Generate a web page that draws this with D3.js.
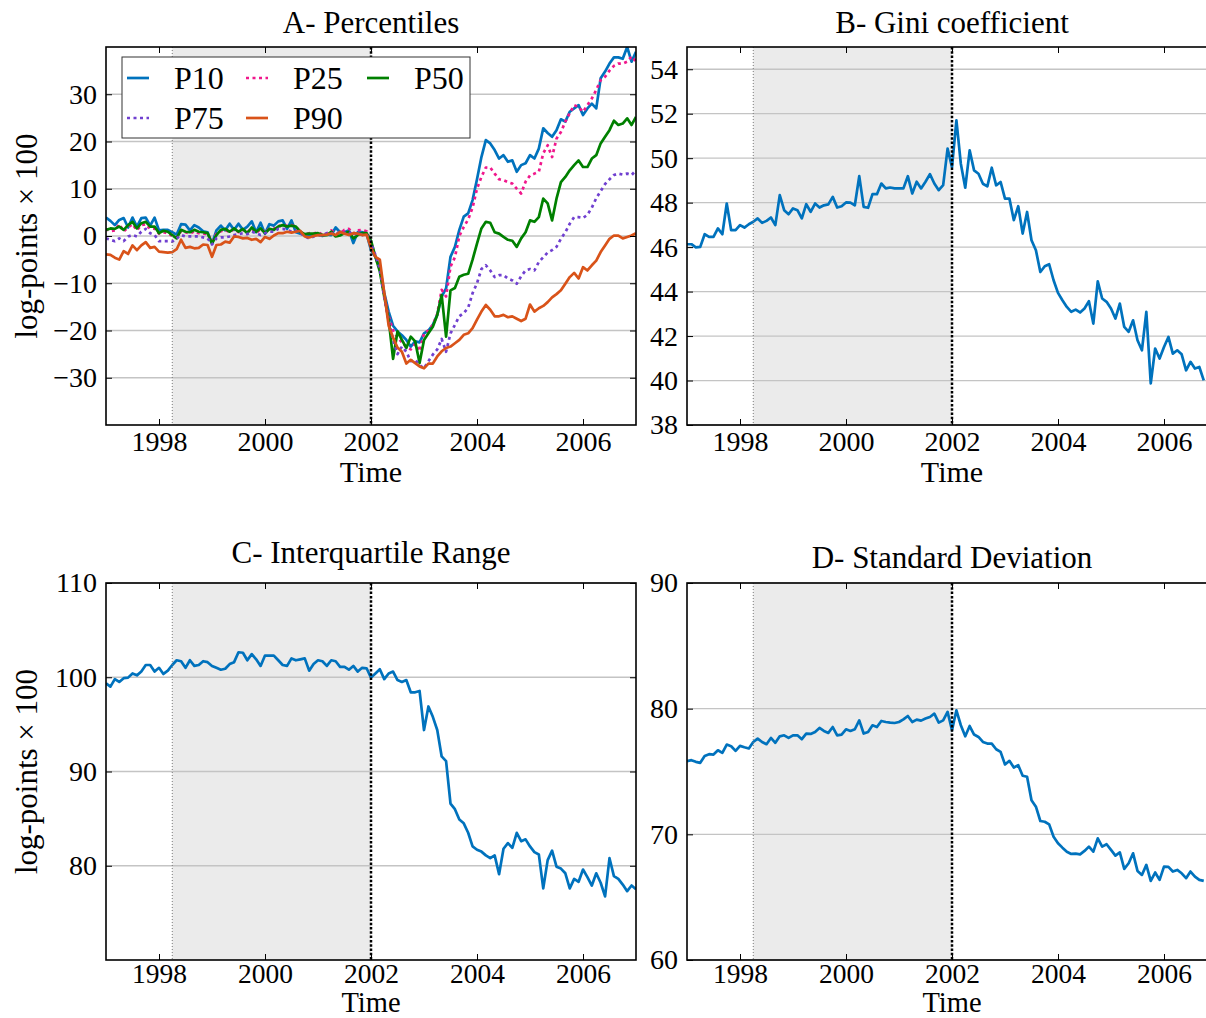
<!DOCTYPE html>
<html><head><meta charset="utf-8">
<script src="https://cdn.jsdelivr.net/npm/d3@7"></script>
<style>
body{margin:0;background:#fff}
svg{display:block}
text{font-family:"Liberation Serif","Times New Roman",serif;fill:#000}
</style>
</head><body>
<svg id="chart" width="1206" height="1018"></svg>
<script>
// ---------- DATA (monthly, starting January 1997) ----------
const startYear = 1997;
const xTickYears = [1998, 2000, 2002, 2004, 2006];
const recessionStart = 1998.25;
const crisisDate = 2002.0;

const seriesNames = ["P10", "P25", "P50", "P75", "P90"];

const P10 = [3.9,3.2,2.3,3.4,3.8,1.8,3.9,2.0,3.8,3.9,
  2.2,3.9,1.2,1.3,1.3,0.8,0.3,2.5,2.4,1.2,
  2.3,1.8,1.0,0.8,-1.6,1.2,2.2,1.2,2.6,1.3,
  2.6,1.3,2.0,3.1,0.8,2.8,0.5,2.5,2.2,3.1,
  3.3,1.5,3.3,0.8,0.5,0.3,0.3,0.2,0.3,0.0,
  0.3,0.2,1.8,0.8,0.8,1.2,-1.5,0.8,0.8,0.5,
  -3.0,-4.4,-6.5,-12.0,-16.0,-19.0,-20.2,-21.0,-22.0,-23.4,
  -22.3,-22.5,-20.6,-20.0,-18.8,-16.7,-12.8,-11.1,-4.4,-2.3,
  1.3,4.1,4.8,7.6,12.0,16.7,20.3,19.6,18.2,16.4,
  17.1,15.7,16.0,13.6,15.0,15.4,17.1,16.4,18.5,22.8,
  21.8,21.0,22.4,24.7,24.2,26.3,27.0,27.7,25.6,27.0,
  28.0,27.0,33.4,34.8,36.5,37.8,37.8,37.5,40.0,36.9,39.0];

const P25 = [1.5,1.0,1.2,2.5,1.0,1.8,2.5,1.2,2.3,2.5,
  1.5,1.6,0.5,0.8,0.6,0.0,-0.3,1.0,0.8,0.5,
  1.0,0.6,0.5,0.4,-1.2,0.5,1.0,1.3,0.8,1.5,
  0.8,1.3,0.8,1.6,0.6,1.5,0.8,1.5,1.5,2.2,
  2.0,2.2,2.3,2.0,0.8,0.3,0.6,0.5,0.8,0.3,
  0.5,1.2,0.6,0.5,1.3,1.5,0.5,1.2,1.3,1.0,
  -1.5,-4.5,-7.0,-12.5,-17.0,-20.0,-21.5,-22.5,-23.5,-24.0,
  -22.8,-24.4,-20.6,-20.0,-18.8,-16.5,-11.4,-12.8,-6.5,-4.5,
  0.0,1.9,3.5,6.0,10.0,12.5,14.5,14.5,13.2,12.0,
  11.8,11.4,11.1,10.0,9.0,11.5,12.8,13.2,13.6,17.5,
  19.2,16.7,20.6,22.0,24.2,26.0,27.7,27.3,26.3,27.7,
  29.1,30.9,33.0,33.7,35.0,36.0,36.5,36.5,36.9,38.0,36.9];

const P50 = [1.3,1.6,1.5,2.0,1.3,2.3,3.0,1.6,2.7,3.0,
  2.0,2.0,0.6,1.1,0.9,0.2,-0.5,1.3,0.9,0.8,
  1.3,0.9,0.8,0.6,-1.6,0.2,1.3,1.5,0.9,1.6,
  0.9,1.5,0.6,1.8,0.9,1.6,0.6,1.5,1.3,2.0,
  2.3,2.0,2.2,2.0,0.9,0.4,0.5,0.5,0.6,0.2,
  0.2,0.9,-0.1,0.1,0.6,0.9,-0.5,0.2,0.6,0.6,
  -1.0,-4.4,-7.5,-12.8,-17.7,-26.0,-20.2,-22.0,-23.7,-21.3,
  -22.3,-26.9,-22.0,-20.6,-19.2,-16.7,-12.5,-21.3,-11.5,-11.0,
  -8.6,-8.2,-8.0,-5.0,-1.6,1.6,3.0,2.8,0.8,0.5,
  -0.2,-0.8,-1.0,-2.3,-0.5,0.8,3.3,3.0,4.0,7.9,
  6.9,3.3,7.9,11.4,12.5,13.9,15.0,16.0,14.6,14.6,
  16.4,17.1,19.6,21.0,22.4,24.4,23.5,23.8,24.9,23.5,25.2];

const P75 = [-0.5,-0.8,-1.1,-0.5,-1.1,-0.1,0.2,-0.1,0.9,1.5,
  0.6,0.2,-1.1,-1.1,-1.1,-1.2,-0.5,0.2,-0.1,-0.1,
  -0.1,-0.1,-0.3,-0.5,-1.8,-0.5,-0.3,-0.3,-0.1,0.2,
  0.4,0.6,0.4,0.9,0.6,0.2,0.6,0.9,0.9,1.5,
  1.5,1.3,0.9,1.1,0.6,-0.1,-0.5,-0.1,0.1,0.2,
  0.6,0.6,0.4,0.9,0.6,0.9,0.2,0.6,0.2,0.4,
  -1.5,-4.0,-7.0,-13.0,-18.0,-22.0,-25.0,-23.4,-24.5,-26.5,
  -26.2,-27.3,-28.0,-26.5,-25.1,-24.0,-21.8,-24.5,-20.6,-18.8,
  -17.0,-16.3,-15.2,-12.1,-10.0,-7.0,-6.2,-7.3,-8.7,-8.3,
  -8.3,-9.0,-9.4,-10.1,-8.5,-7.3,-7.0,-7.3,-5.5,-4.5,
  -3.5,-3.0,-2.3,-0.6,0.8,2.6,4.0,4.0,3.8,4.5,
  6.0,8.0,9.5,11.0,12.0,12.9,13.2,13.0,13.2,12.9,13.9];

const P90 = [-3.9,-4.0,-4.6,-5.0,-3.2,-3.8,-2.0,-3.0,-2.0,-1.3,
  -2.5,-2.3,-3.3,-3.4,-3.5,-3.4,-2.8,-0.8,-2.5,-2.3,
  -2.6,-2.5,-1.8,-1.9,-4.4,-1.9,-1.8,-1.2,-1.4,-0.1,
  -0.2,-0.5,-0.4,-0.8,-0.6,-1.3,-0.2,-0.6,0.1,0.6,
  0.6,0.9,0.7,0.9,1.1,-0.1,-0.3,0.0,0.2,0.2,
  0.3,0.5,0.2,0.9,0.5,0.2,0.6,0.5,0.2,0.3,
  -2.5,-4.4,-5.0,-12.0,-19.0,-21.5,-23.6,-24.5,-27.0,-26.2,
  -26.9,-27.6,-28.0,-27.0,-27.0,-25.5,-24.4,-23.7,-23.4,-22.7,
  -22.0,-20.9,-20.6,-19.5,-17.7,-16.0,-14.6,-15.6,-17.0,-17.0,
  -16.7,-17.2,-17.0,-17.5,-18.0,-17.5,-14.5,-16.0,-15.3,-14.8,
  -14.0,-13.0,-12.3,-11.5,-10.1,-8.7,-7.8,-9.0,-6.6,-7.3,
  -6.2,-5.2,-3.4,-2.0,-0.6,0.1,0.1,-0.5,-0.2,0.1,0.6];

const gini = [46.13,46.13,45.99,46.01,46.58,46.46,46.46,46.84,46.58,47.96,
  46.76,46.76,46.99,46.88,47.03,47.14,47.29,47.09,47.18,47.33,
  46.99,48.34,47.66,47.48,47.74,47.66,47.29,47.93,47.59,47.96,
  47.78,47.88,47.92,48.26,47.78,47.84,48.01,48.00,47.88,49.19,
  47.81,47.77,48.38,48.38,48.86,48.64,48.68,48.64,48.64,48.64,
  49.19,48.41,48.94,48.64,48.94,49.28,48.86,48.56,48.79,50.43,
  49.60,51.70,49.75,48.67,50.35,49.45,49.30,48.85,48.73,49.57,
  48.78,48.93,48.18,48.18,47.21,47.84,46.61,47.58,46.31,45.86,
  44.88,45.14,45.23,44.51,43.94,43.61,43.31,43.09,43.19,43.06,
  43.24,43.57,42.56,44.46,43.69,43.54,43.24,42.79,43.46,42.41,
  42.19,42.71,41.81,41.36,43.09,39.87,41.44,40.99,41.51,41.96,
  41.21,41.36,41.18,40.46,40.84,40.54,40.61,40.01];

const iqr = [99.36,99.0,99.8,99.5,99.9,99.96,100.4,100.2,100.6,101.3,
  101.3,100.6,101.0,100.35,100.7,101.3,101.8,101.7,101.0,101.8,
  101.2,101.3,101.7,101.6,101.2,101.0,100.8,100.9,101.4,101.6,
  102.65,102.6,101.8,102.45,101.9,101.2,102.3,102.3,102.3,101.8,
  101.3,101.2,102.0,101.8,101.9,102.0,100.7,101.4,101.8,101.7,
  101.2,101.8,101.7,101.1,101.1,100.8,101.2,100.6,101.0,100.95,
  99.96,100.4,100.85,99.8,100.4,100.6,99.7,99.5,99.7,98.4,
  98.4,98.55,94.4,96.9,95.8,94.4,91.6,91.1,86.6,86.0,
  84.9,84.5,83.5,82.05,81.7,81.5,81.1,80.8,81.1,79.1,
  81.8,82.4,81.9,83.5,82.6,82.8,82.05,81.45,81.2,77.6,
  80.6,81.6,79.9,79.7,79.2,77.6,78.6,78.3,79.6,78.8,
  77.9,79.2,78.2,76.75,80.8,78.9,78.6,78.0,77.3,77.9,77.5];

const stdDev = [75.82,75.9,75.77,75.69,76.24,76.38,76.35,76.69,76.48,77.14,
  77.01,76.64,77.04,76.93,76.83,77.35,77.62,77.35,77.17,77.67,
  77.28,77.8,77.88,77.67,77.88,77.88,77.57,78.02,77.99,78.15,
  78.47,78.23,78.07,78.54,77.88,77.94,78.36,78.23,78.36,79.07,
  78.02,78.15,78.68,78.54,79.02,78.94,78.89,78.86,78.94,79.15,
  79.42,78.94,79.13,79.05,79.21,79.34,79.6,78.89,79.07,79.74,
  78.28,79.87,78.68,77.8,78.62,77.94,77.75,77.35,77.22,77.22,
  76.77,76.56,75.56,75.85,75.32,75.5,74.66,74.58,72.72,72.2,
  71.06,71.0,70.79,69.81,69.29,68.94,68.62,68.44,68.47,68.41,
  68.68,69.02,68.62,69.68,69.02,69.21,68.76,68.31,68.57,67.25,
  67.7,68.49,67.09,66.77,67.57,66.3,66.96,66.38,67.43,67.41,
  67.04,67.17,66.9,66.51,67.04,66.64,66.38,66.3];

const ticksA = [-30,-20,-10,0,10,20,30];
const ticksB = [38,40,42,44,46,48,50,52,54];
const ticksC = [80,90,100,110];
const ticksD = [60,70,80,90];

// ---------- STYLE ----------
const colors = {P10:"#0072BD", P25:"#F0178C", P50:"#008000", P75:"#7040D0", P90:"#D95319", single:"#0072BD"};
const dashes = {P10:null, P25:"3,3.5", P50:null, P75:"3,3.5", P90:null};

const svg = d3.select("#chart");
const timeOf = i => startYear + i / 12;
const fmtTick = d => d < 0 ? "\u2212" + Math.abs(d) : String(d);

const panels = [
  {id:"A", x0:106, x1:636, y0:47, y1:425, domain:[-40,40], ticks:ticksA, title:"A- Percentiles", titleY:33, ylabel:true,
   xlabDy:57, xlabSize:30, tickPad:6, xTickSize:28,
   series: seriesNames.map(n => ({name:n, values:{P10,P25,P50,P75,P90}[n]}))},
  {id:"B", x0:687, x1:1217, y0:47, y1:425, domain:[38,55], ticks:ticksB, title:"B- Gini coefficient", titleY:33, ylabel:false,
   xlabDy:57, xlabSize:30, tickPad:6, xTickSize:28,
   series:[{name:"single", values:gini}]},
  {id:"C", x0:106, x1:636, y0:583, y1:960, domain:[70,110], ticks:ticksC, title:"C- Interquartile Range", titleY:563, ylabel:true,
   xlabDy:52, xlabSize:28.5, tickPad:3.5, xTickSize:27.5,
   series:[{name:"single", values:iqr}]},
  {id:"D", x0:687, x1:1217, y0:583, y1:960, domain:[60,90], ticks:ticksD, title:"D- Standard Deviation", titleY:568, ylabel:false,
   xlabDy:52, xlabSize:28.5, tickPad:3.5, xTickSize:27.5,
   series:[{name:"single", values:stdDev}]}
];

const defs = svg.append("defs");

panels.forEach(p => {
  const x = d3.scaleLinear().domain([1997, 2007]).range([p.x0, p.x1]);
  const y = d3.scaleLinear().domain(p.domain).range([p.y1, p.y0]);
  const g = svg.append("g");

  defs.append("clipPath").attr("id", "clip" + p.id)
    .append("rect").attr("x", p.x0).attr("y", p.y0).attr("width", p.x1 - p.x0).attr("height", p.y1 - p.y0);

  // shaded recession
  g.append("rect")
    .attr("x", x(recessionStart)).attr("y", p.y0)
    .attr("width", x(crisisDate) - x(recessionStart)).attr("height", p.y1 - p.y0)
    .attr("fill", "#ebebeb");

  // grid
  g.append("g").selectAll("line").data(p.ticks).join("line")
    .attr("x1", p.x0).attr("x2", p.x1)
    .attr("y1", d => y(d)).attr("y2", d => y(d))
    .attr("stroke", "#c4c4c4").attr("stroke-width", 1.3);

  // data lines
  const line = d3.line().x((d, i) => x(timeOf(i))).y(d => y(d));
  g.append("g").attr("clip-path", `url(#clip${p.id})`)
    .selectAll("path").data(p.series).join("path")
    .attr("d", s => line(s.values))
    .attr("fill", "none")
    .attr("stroke", s => colors[s.name])
    .attr("stroke-width", 2.7)
    .attr("stroke-linejoin", "round")
    .attr("stroke-dasharray", s => dashes[s.name] || null);

  // vertical markers
  g.append("line").attr("x1", x(recessionStart)).attr("x2", x(recessionStart))
    .attr("y1", p.y0).attr("y2", p.y1)
    .attr("stroke", "#7a7a7a").attr("stroke-width", 1).attr("stroke-dasharray", "1,2");
  g.append("line").attr("x1", x(crisisDate)).attr("x2", x(crisisDate))
    .attr("y1", p.y0).attr("y2", p.y1)
    .attr("stroke", "#000").attr("stroke-width", 2.5).attr("stroke-dasharray", "2.5,1.8");

  // axes
  const axB = d3.axisBottom(x).tickValues(xTickYears).tickFormat(d3.format("d"))
    .tickSizeInner(-6).tickSizeOuter(0).tickPadding(p.tickPad);
  const axT = d3.axisTop(x).tickValues(xTickYears).tickFormat("")
    .tickSizeInner(-6).tickSizeOuter(0);
  const axL = d3.axisLeft(y).tickValues(p.ticks).tickFormat(fmtTick)
    .tickSizeInner(-6).tickSizeOuter(0).tickPadding(9);
  const axR = d3.axisRight(y).tickValues(p.ticks).tickFormat("")
    .tickSizeInner(-6).tickSizeOuter(0);

  const styleAxis = size => sel => {
    sel.select(".domain").remove();
    sel.selectAll(".tick line").attr("stroke", "#000").attr("stroke-width", 1);
    sel.selectAll("text").attr("font-size", size).attr("font-family", '"Liberation Serif", serif').attr("fill", "#000");
  };
  g.append("g").attr("transform", `translate(0,${p.y1})`).call(axB).call(styleAxis(p.xTickSize));
  g.append("g").attr("transform", `translate(0,${p.y0})`).call(axT).call(styleAxis(28));
  g.append("g").attr("transform", `translate(${p.x0},0)`).call(axL).call(styleAxis(28));
  g.append("g").attr("transform", `translate(${p.x1},0)`).call(axR).call(styleAxis(28));

  // frame
  g.append("rect").attr("x", p.x0).attr("y", p.y0)
    .attr("width", p.x1 - p.x0).attr("height", p.y1 - p.y0)
    .attr("fill", "none").attr("stroke", "#000").attr("stroke-width", 1.6);

  // title
  g.append("text").attr("x", (p.x0 + p.x1) / 2).attr("y", p.titleY)
    .attr("text-anchor", "middle").attr("font-size", 31).text(p.title);

  // x label
  g.append("text").attr("x", (p.x0 + p.x1) / 2).attr("y", p.y1 + p.xlabDy)
    .attr("text-anchor", "middle").attr("font-size", p.xlabSize).text("Time");

  // y label
  if (p.ylabel) {
    g.append("text")
      .attr("transform", `translate(37,${(p.y0 + p.y1) / 2}) rotate(-90)`)
      .attr("text-anchor", "middle").attr("font-size", 31)
      .text("log-points \u00d7 100");
  }

  // legend
  if (p.id === "A") {
    const lg = g.append("g");
    lg.append("rect").attr("x", 122).attr("y", 57).attr("width", 348).attr("height", 81)
      .attr("fill", "#fff").attr("stroke", "#333").attr("stroke-width", 1);
    const items = [
      {name:"P10", lx:127, ty:78}, {name:"P25", lx:246, ty:78}, {name:"P50", lx:367, ty:78},
      {name:"P75", lx:127, ty:118}, {name:"P90", lx:246, ty:118}
    ];
    items.forEach(it => {
      lg.append("line").attr("x1", it.lx).attr("x2", it.lx + 22)
        .attr("y1", it.ty).attr("y2", it.ty)
        .attr("stroke", colors[it.name]).attr("stroke-width", 2.7)
        .attr("stroke-dasharray", dashes[it.name] || null);
      lg.append("text").attr("x", it.lx + 47).attr("y", it.ty + 10.5)
        .attr("font-size", 32).text(it.name);
    });
  }
});
</script>
</body></html>
